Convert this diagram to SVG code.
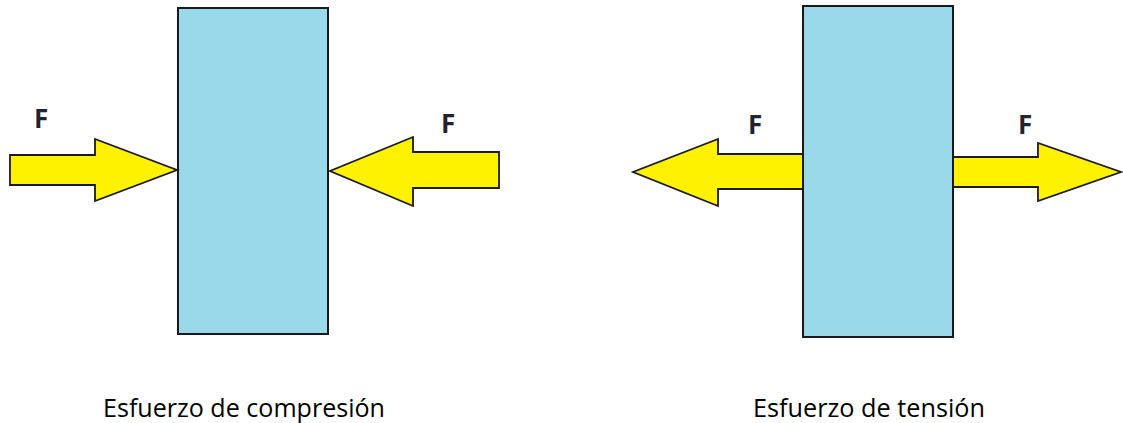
<svg xmlns="http://www.w3.org/2000/svg" width="1123" height="423" viewBox="0 0 1123 423">
<style>
.bar{fill:#99d9ea;stroke:#1a1a1a;stroke-width:2}
.arr{fill:#fff200;stroke:#1a1a1a;stroke-width:1.8;stroke-linejoin:miter}
.f{font-family:"Open Sans","Liberation Sans",Arial,sans-serif;font-weight:bold;font-size:26px;fill:#222230}
.cap{font-family:"Open Sans","Liberation Sans",sans-serif;font-size:25px;fill:#000}
</style>
<rect width="1123" height="423" fill="#fff"/>
<g id="compresion">
<g id="bar1"><rect class="bar" x="178" y="8" width="150" height="326"/></g>
<g id="arrow1"><polygon class="arr" points="10,155 95,155 95,139 177,170 95,201 95,185 10,185"/><text class="f" x="34" y="128">F</text></g>
<g id="arrow2"><polygon class="arr" points="499,152 413,152 413,137 330,171 413,206 413,188 499,188"/><text class="f" x="441" y="133">F</text></g>
<g id="label1"><text class="cap" x="103" y="417" textLength="282" lengthAdjust="spacingAndGlyphs">Esfuerzo de compresión</text></g>
</g>
<g id="tension">
<g id="arrow3"><polygon class="arr" points="803,154 718,154 718,139 633,172 718,206 718,189 803,189"/><text class="f" x="748" y="134">F</text></g>
<g id="arrow4"><polygon class="arr" points="953,157 1038,157 1038,143 1121,172 1038,201 1038,187 953,187"/><text class="f" x="1018" y="134">F</text></g>
<g id="bar2"><rect class="bar" x="803" y="6" width="150" height="331"/></g>
<g id="label2"><text class="cap" x="753" y="417" textLength="232" lengthAdjust="spacingAndGlyphs">Esfuerzo de tensión</text></g>
</g>
<g id="connectors"/>
</svg>
